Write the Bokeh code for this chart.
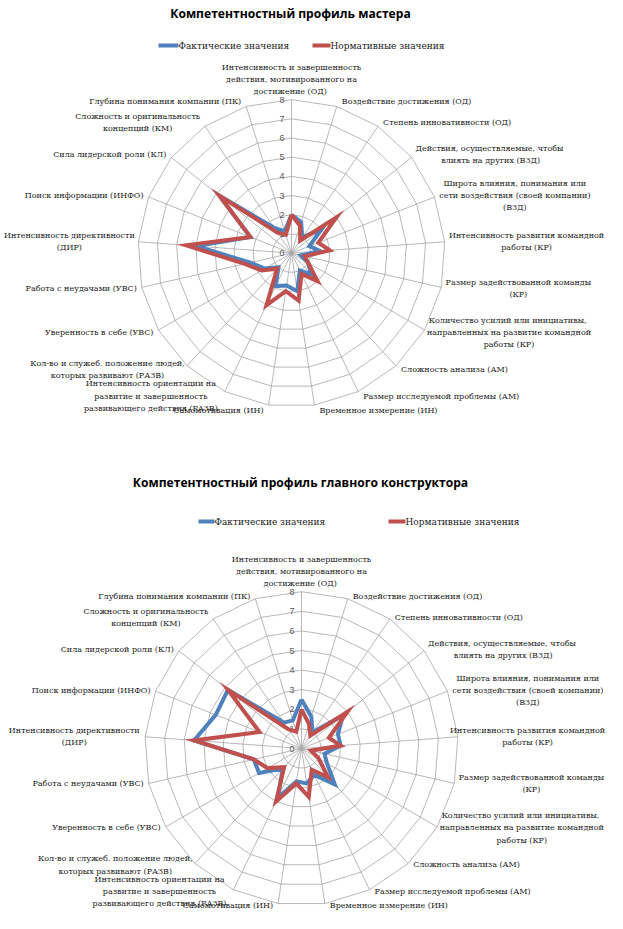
import math
from bokeh.plotting import figure
from bokeh.models import Range1d
from bokeh.layouts import column
from bokeh.embed import file_html
from bokeh.resources import INLINE
from bokeh.core.properties import value

# ---------------- data ----------------
categories = [
    "Интенсивность и завершенность\nдействия, мотивированного на\nдостижение  (ОД)",
    "Воздействие достижения  (ОД)",
    "Степень инновативности  (ОД)",
    "Действия, осуществляемые,  чтобы\nвлиять на других (ВЗД)",
    "Широта влияния, понимания или\nсети воздействия (своей компании)\n(ВЗД)",
    "Интенсивность развития командной\nработы (КР)",
    "Размер задействованной команды\n(КР)",
    "Количество  усилий или инициативы,\nнаправленных на развитие командной\nработы (КР)",
    "Сложность анализа (АМ)",
    "Размер исследуемой  проблемы (АМ)",
    "Временное измерение (ИН)",
    "Самомотивация (ИН)",
    "Интенсивность ориентации на\nразвитие и завершенность\nразвивающего действия (РАЗВ)",
    "Кол-во и служеб. положение людей,\nкоторых развивают (РАЗВ)",
    "Уверенность в себе (УВС)",
    "Работа с неудачами (УВС)",
    "Интенсивность директивности\n(ДИР)",
    "Поиск информации (ИНФО)",
    "Сила лидерской роли (КЛ)",
    "Сложность и оригинальность\nконцепций (КМ)",
    "Глубина понимания компании (ПК)",
]

series_names = ["Фактические значения", "Нормативные значения"]
tick_labels = ["0", "1", "2", "3", "4", "5", "6", "7", "8"]

title_master = "Компетентностный профиль мастера"
fact_master = [2, 1.7, 1, 2, 1, 1.5, 0.5, 1, 1.5, 1, 2, 1.7, 1.9, 1, 1.6, 2.2, 5, 2.3, 4.8, 1.6, 1.2]
norm_master = [2, 1.5, 0.8, 3, 1.5, 2, 0.7, 1, 2, 1.2, 2.5, 2, 3, 1.1, 1.8, 2.5, 5.5, 2.3, 4.8, 1.3, 1]

title_constr = "Компетентностный профиль главного конструктора"
fact_constr = [2.5, 1.7, 1, 2.7, 2, 2, 1.2, 1.5, 2.5, 1.5, 1.8, 1.7, 2.8, 1.4, 2.5, 2.5, 5.5, 4.7, 4.8, 1.6, 1.5]
norm_constr = [2, 1.3, 0.8, 3, 1.5, 2, 0.5, 1, 2, 1.2, 2.5, 1.8, 3, 1.3, 2, 2.5, 5.5, 2.3, 4.8, 1.2, 0.9]

# ---------------- style ----------------
BLUE = "#4F81BD"
RED = "#C0504D"
GRID = "#a0a0a0"
LABEL_FONT = "DejaVu Serif"
LABEL_SIZE = 8.0
LINE_H = 12.2
W = 607
RMAX = 8


def text_width(s, size=LABEL_SIZE):
    w = 0.0
    for ch in s:
        if ch == " ":
            w += 0.32
        elif ch in "(),.-":
            w += 0.40
        elif ch.isupper():
            w += 0.90
        else:
            w += 0.61
    return w * size


def make_radar(title, fact, norm, H, cx, cy, u, title_xy, legend_xy, voff):
    def dx(X):
        return (X - cx) / u

    def dy(Y):
        return (cy - Y) / u

    p = figure(width=W, height=H,
               x_range=Range1d(dx(0), dx(W)), y_range=Range1d(dy(H), dy(0)),
               output_backend="svg", toolbar_location=None,
               x_axis_type=None, y_axis_type=None, min_border=0,
               outline_line_color=None, background_fill_color="white",
               border_fill_color="white")

    n = len(categories)
    ang = [2 * math.pi * i / n for i in range(n)]

    # rings
    xs, ys = [], []
    for k in range(1, RMAX + 1):
        xs.append([k * math.sin(a) for a in ang] + [0.0])
        ys.append([k * math.cos(a) for a in ang] + [float(k)])
    p.multi_line(xs, ys, line_color=GRID, line_width=0.75)
    # spokes
    p.multi_line([[0, RMAX * math.sin(a)] for a in ang],
                 [[0, RMAX * math.cos(a)] for a in ang],
                 line_color=GRID, line_width=0.75)

    # tick labels
    p.text([dx(cx - 7)] * len(tick_labels), list(range(len(tick_labels))),
           text=tick_labels, text_align="right", text_baseline="middle",
           text_font=value("Liberation Sans"),
           text_font_size="9px", text_color="#595959")

    # series
    for vals, col in ((fact, BLUE), (norm, RED)):
        x = [v * math.sin(a) for v, a in zip(vals, ang)]
        y = [v * math.cos(a) for v, a in zip(vals, ang)]
        p.line(x + x[:1], y + y[:1], line_color=col, line_width=4,
               line_join="miter")

    # category labels
    tx, ty, tt, tal = [], [], [], []
    for i, lab in enumerate(categories):
        s, c = math.sin(ang[i]), math.cos(ang[i])
        rx, ry = cx + RMAX * u * s, cy - RMAX * u * c
        lines = lab.split("\n")
        m = len(lines)
        wmax = max(text_width(l) for l in lines)
        if abs(s) < 0.05:
            xc = rx
            ylast = ry - 8
            ycs = [ylast - (m - 1 - k) * LINE_H for k in range(m)]
        else:
            yc = ry - c * voff
            if s > 0:
                xc = rx + 5 + wmax / 2
                xc = min(xc, W - 3 - wmax / 2)
            else:
                xc = rx - 5 - wmax / 2
                xc = max(xc, 3 + wmax / 2)
            ycs = [yc + (k - (m - 1) / 2) * LINE_H for k in range(m)]
        for k, line in enumerate(lines):
            if m == 1 and abs(s) >= 0.05:
                tx.append(dx(rx + 5) if s > 0 else dx(rx - 5))
                tal.append("left" if s > 0 else "right")
            else:
                tx.append(dx(xc))
                tal.append("center")
            ty.append(dy(ycs[k]))
            tt.append(line)
    p.text(tx, ty, text=tt, text_align=tal, text_baseline="middle",
           text_font=value(LABEL_FONT), text_font_size=f"{LABEL_SIZE}px",
           text_color="#1a1a1a")

    # title
    p.text([dx(title_xy[0])], [dy(title_xy[1])], text=[title],
           text_align="center", text_baseline="middle",
           text_font=value("Open Sans"), text_font_style="bold",
           text_font_size="12.1px", text_color="#000000")

    # legend
    for (x0, x1, yy), col, name in zip(legend_xy, (BLUE, RED), series_names):
        p.line([dx(x0), dx(x1)], [dy(yy), dy(yy)], line_color=col, line_width=4)
        p.text([dx(x1)], [dy(yy)], text=[name], text_align="left",
               text_baseline="middle", text_font=value(LABEL_FONT),
               text_font_size="9px", text_color="#1a1a1a")
    return p


p1 = make_radar(title_master, fact_master, norm_master, 465, 291, 252.7, 19.2,
                (290, 13), [(158, 178, 45), (312, 330, 45)], 5)
p2 = make_radar(title_constr, fact_constr, norm_constr, 448, 301, 283, 19.6,
                (300, 17), [(198, 214, 56), (388, 405, 56)], 2)

p = column(p1, p2, spacing=0)
open("out.html", "w").write(file_html(p, INLINE))
